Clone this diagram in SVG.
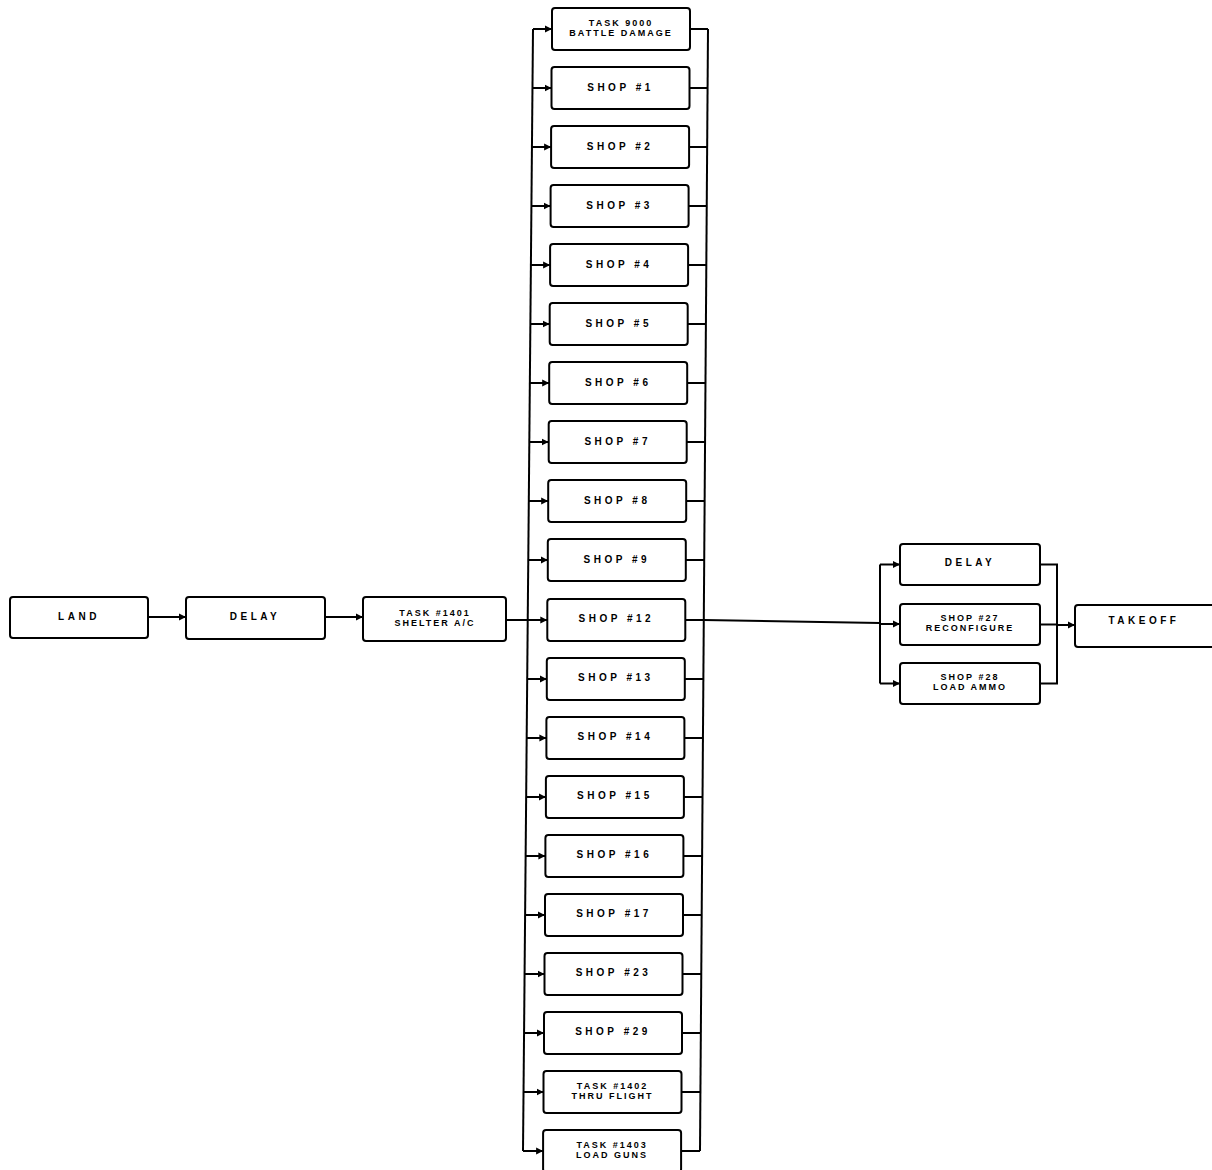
<svg xmlns="http://www.w3.org/2000/svg" width="1212" height="1170" viewBox="0 0 1212 1170">
<style>
.box{fill:#fff;stroke:#000;stroke-width:2}
.c{fill:none;stroke:#000;stroke-width:2}
.t{font-family:"Liberation Sans",Arial,sans-serif;font-weight:bold;font-size:10px;letter-spacing:3.5px;text-anchor:middle;fill:#000}
.t2{font-family:"Liberation Sans",Arial,sans-serif;font-weight:bold;font-size:9px;letter-spacing:2px;text-anchor:middle;fill:#000}
</style>
<defs>
<marker id="a" markerWidth="8" markerHeight="8" refX="7" refY="4" orient="auto" markerUnits="userSpaceOnUse">
<path d="M0,0.5 L7,4 L0,7.5 Z" fill="#000"/>
</marker>
</defs>
<rect width="1212" height="1170" fill="#fff"/>
<g id="connectors">
<path class="c" d="M148,617 H186" marker-end="url(#a)"/>
<path class="c" d="M325,617 H363" marker-end="url(#a)"/>
<path class="c" d="M507,620 H527.7"/>
<path class="c" d="M533,29 L523,1151"/>
<path class="c" d="M708,29 L700,1151"/>
<path class="c" d="M533,29 H552" marker-end="url(#a)"/>
<path class="c" d="M532.5,88 H551.5" marker-end="url(#a)"/>
<path class="c" d="M531.9,147 H551.1" marker-end="url(#a)"/>
<path class="c" d="M531.4,206 H550.6" marker-end="url(#a)"/>
<path class="c" d="M530.9,265 H550.1" marker-end="url(#a)"/>
<path class="c" d="M530.4,324 H549.7" marker-end="url(#a)"/>
<path class="c" d="M529.8,383 H549.2" marker-end="url(#a)"/>
<path class="c" d="M529.3,442 H548.7" marker-end="url(#a)"/>
<path class="c" d="M528.8,501 H548.2" marker-end="url(#a)"/>
<path class="c" d="M528.3,560 H547.8" marker-end="url(#a)"/>
<path class="c" d="M527.7,620 H547.3" marker-end="url(#a)"/>
<path class="c" d="M527.2,679 H546.8" marker-end="url(#a)"/>
<path class="c" d="M526.7,738 H546.4" marker-end="url(#a)"/>
<path class="c" d="M526.2,797 H545.9" marker-end="url(#a)"/>
<path class="c" d="M525.6,856 H545.4" marker-end="url(#a)"/>
<path class="c" d="M525.1,915 H545" marker-end="url(#a)"/>
<path class="c" d="M524.6,974 H544.5" marker-end="url(#a)"/>
<path class="c" d="M524.1,1033 H544" marker-end="url(#a)"/>
<path class="c" d="M523.6,1092 H543.5" marker-end="url(#a)"/>
<path class="c" d="M523,1151 H543.1" marker-end="url(#a)"/>
<path class="c" d="M690,29 H708"/>
<path class="c" d="M689.5,88 H707.6"/>
<path class="c" d="M689.1,147 H707.2"/>
<path class="c" d="M688.6,206 H706.7"/>
<path class="c" d="M688.1,265 H706.3"/>
<path class="c" d="M687.7,324 H705.9"/>
<path class="c" d="M687.2,383 H705.5"/>
<path class="c" d="M686.7,442 H705.1"/>
<path class="c" d="M686.2,501 H704.6"/>
<path class="c" d="M685.8,560 H704.2"/>
<path class="c" d="M685.3,620 H703.7"/>
<path class="c" d="M684.8,679 H703.3"/>
<path class="c" d="M684.4,738 H702.9"/>
<path class="c" d="M683.9,797 H702.5"/>
<path class="c" d="M683.4,856 H702"/>
<path class="c" d="M683,915 H701.6"/>
<path class="c" d="M682.5,974 H701.2"/>
<path class="c" d="M682,1033 H700.8"/>
<path class="c" d="M681.5,1092 H700.4"/>
<path class="c" d="M681.1,1151 H700"/>
<path class="c" d="M703.7,620 L880,623"/>
<path class="c" d="M880,564.5 V683.5"/>
<path class="c" d="M880,564.5 H900" marker-end="url(#a)"/>
<path class="c" d="M880,624 H900" marker-end="url(#a)"/>
<path class="c" d="M880,683.5 H900" marker-end="url(#a)"/>
<path class="c" d="M1040,564.5 H1057 V683.5 H1040"/>
<path class="c" d="M1040,624.5 H1057"/>
<path class="c" d="M1057,625 H1075" marker-end="url(#a)"/>
</g>
<g id="land"><rect class="box" x="10" y="597" width="138" height="41" rx="3"/><text class="t" x="79" y="620">LAND</text></g>
<g id="delay1"><rect class="box" x="186" y="597" width="139" height="42" rx="3"/><text class="t" x="255" y="620">DELAY</text></g>
<g id="task1401"><rect class="box" x="363" y="597" width="143" height="44" rx="3"/><text class="t2" x="435" y="616">TASK #1401</text><text class="t2" x="435" y="626">SHELTER A/C</text></g>
<g id="task9000"><rect class="box" x="552" y="8" width="138" height="42" rx="3"/><text class="t2" x="621" y="26">TASK 9000</text><text class="t2" x="621" y="36">BATTLE DAMAGE</text></g>
<g id="shop1"><rect class="box" x="551.5" y="67" width="138" height="42" rx="3"/><text class="t" x="620.5" y="91">SHOP #1</text></g>
<g id="shop2"><rect class="box" x="551.1" y="126" width="138" height="42" rx="3"/><text class="t" x="620.1" y="150">SHOP #2</text></g>
<g id="shop3"><rect class="box" x="550.6" y="185" width="138" height="42" rx="3"/><text class="t" x="619.6" y="209">SHOP #3</text></g>
<g id="shop4"><rect class="box" x="550.1" y="244" width="138" height="42" rx="3"/><text class="t" x="619.1" y="268">SHOP #4</text></g>
<g id="shop5"><rect class="box" x="549.7" y="303" width="138" height="42" rx="3"/><text class="t" x="618.7" y="327">SHOP #5</text></g>
<g id="shop6"><rect class="box" x="549.2" y="362" width="138" height="42" rx="3"/><text class="t" x="618.2" y="386">SHOP #6</text></g>
<g id="shop7"><rect class="box" x="548.7" y="421" width="138" height="42" rx="3"/><text class="t" x="617.7" y="445">SHOP #7</text></g>
<g id="shop8"><rect class="box" x="548.2" y="480" width="138" height="42" rx="3"/><text class="t" x="617.2" y="504">SHOP #8</text></g>
<g id="shop9"><rect class="box" x="547.8" y="539" width="138" height="42" rx="3"/><text class="t" x="616.8" y="563">SHOP #9</text></g>
<g id="shop12"><rect class="box" x="547.3" y="599" width="138" height="42" rx="3"/><text class="t" x="616.3" y="622">SHOP #12</text></g>
<g id="shop13"><rect class="box" x="546.8" y="658" width="138" height="42" rx="3"/><text class="t" x="615.8" y="681">SHOP #13</text></g>
<g id="shop14"><rect class="box" x="546.4" y="717" width="138" height="42" rx="3"/><text class="t" x="615.4" y="740">SHOP #14</text></g>
<g id="shop15"><rect class="box" x="545.9" y="776" width="138" height="42" rx="3"/><text class="t" x="614.9" y="799">SHOP #15</text></g>
<g id="shop16"><rect class="box" x="545.4" y="835" width="138" height="42" rx="3"/><text class="t" x="614.4" y="858">SHOP #16</text></g>
<g id="shop17"><rect class="box" x="545" y="894" width="138" height="42" rx="3"/><text class="t" x="614" y="917">SHOP #17</text></g>
<g id="shop23"><rect class="box" x="544.5" y="953" width="138" height="42" rx="3"/><text class="t" x="613.5" y="976">SHOP #23</text></g>
<g id="shop29"><rect class="box" x="544" y="1012" width="138" height="42" rx="3"/><text class="t" x="613" y="1035">SHOP #29</text></g>
<g id="task1402"><rect class="box" x="543.5" y="1071" width="138" height="42" rx="3"/><text class="t2" x="612.5" y="1089">TASK #1402</text><text class="t2" x="612.5" y="1099">THRU FLIGHT</text></g>
<g id="task1403"><rect class="box" x="543.1" y="1130" width="138" height="42" rx="3"/><text class="t2" x="612.1" y="1148">TASK #1403</text><text class="t2" x="612.1" y="1158">LOAD GUNS</text></g>
<g id="delay2"><rect class="box" x="900" y="544" width="140" height="41" rx="3"/><text class="t" x="970" y="566">DELAY</text></g>
<g id="shop27"><rect class="box" x="900" y="604" width="140" height="41" rx="3"/><text class="t2" x="970" y="621">SHOP #27</text><text class="t2" x="970" y="631">RECONFIGURE</text></g>
<g id="shop28"><rect class="box" x="900" y="663" width="140" height="41" rx="3"/><text class="t2" x="970" y="680">SHOP #28</text><text class="t2" x="970" y="690">LOAD AMMO</text></g>
<g id="takeoff"><rect class="box" x="1075" y="605" width="160" height="42" rx="3"/><text class="t" x="1144" y="624">TAKEOFF</text></g>
</svg>
